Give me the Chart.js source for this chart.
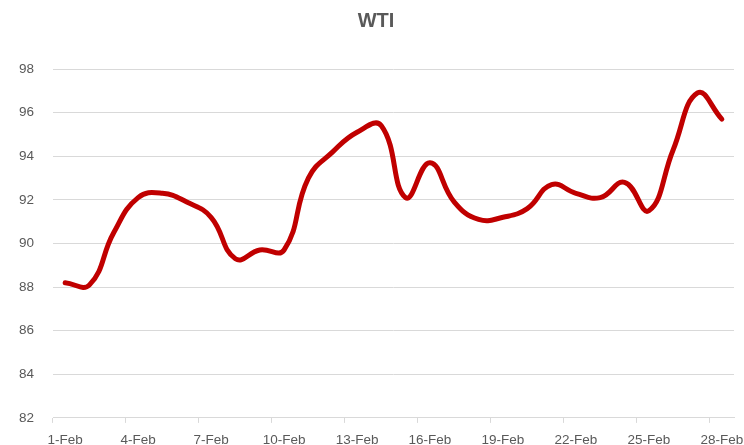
<!DOCTYPE html>
<html>
<head>
<meta charset="utf-8">
<script src="https://cdn.jsdelivr.net/npm/chart.js@4"></script>
<style>
  html, body { margin: 0; padding: 0; background: #fff; }
  #wrap { width: 744px; height: 445px; }
</style>
</head>
<body>
<div id="wrap"><canvas id="chartWti"></canvas></div>
<script>
// WTI daily price, February — smoothed line, Excel-like styling.
var DAYS = [
  '1-Feb', '2-Feb', '3-Feb', '4-Feb', '5-Feb', '6-Feb', '7-Feb', '8-Feb', '9-Feb', '10-Feb',
  '11-Feb', '12-Feb', '13-Feb', '14-Feb', '15-Feb', '16-Feb', '17-Feb', '18-Feb', '19-Feb', '20-Feb',
  '21-Feb', '22-Feb', '23-Feb', '24-Feb', '25-Feb', '26-Feb', '27-Feb', '28-Feb'
];
var WTI = [
  88.2, 88.1, 90.5, 92.1, 92.3, 91.9, 91.2, 89.3, 89.7, 89.7,
  93.0, 94.2, 95.1, 95.4, 92.1, 93.7, 91.9, 91.1, 91.2, 91.6,
  92.7, 92.3, 92.1, 92.8, 91.5, 94.3, 96.9, 95.7
];
var Y_MIN = 82;
var Y_MAX = 98;
var Y_STEP = 2;

var LINE_COLOR = '#c00000';
var GRID_COLOR = '#d9d9d9';
var TEXT_COLOR = '#595959';
var FONT = "'Liberation Sans', Arial, sans-serif";

(function () {
  var el = document.getElementById('chartWti');
  // eslint-disable-next-line no-new
  new Chart(el, {
    type: 'line',
    data: {
      labels: DAYS,
      datasets: [
        {
          label: 'WTI',
          data: WTI,
          borderColor: LINE_COLOR,
          backgroundColor: LINE_COLOR,
          borderWidth: 5,
          borderCapStyle: 'round',
          borderJoinStyle: 'round',
          pointRadius: 0,
          tension: 0.45,
          fill: false,
        },
      ],
    },
    options: {
      responsive: true,
      maintainAspectRatio: false,
      animation: false,
      // left padding nudges the title centre to where Excel put it
      layout: { padding: { left: 18, right: 10, top: 0, bottom: 0 } },
      plugins: {
        legend: { display: false },
        tooltip: { enabled: false },
        title: {
          display: true,
          text: 'WTI',
          color: TEXT_COLOR,
          font: { family: FONT, size: 20, weight: 'bold' },
          padding: { top: 9, bottom: 36 },
        },
      },
      scales: {
        x: {
          offset: true,
          border: { display: true, color: GRID_COLOR, width: 1 },
          grid: {
            offset: true,
            drawOnChartArea: false,
            drawTicks: true,
            tickLength: 5,
            color: function (ctx) {
              return ctx.index % 3 === 0 ? GRID_COLOR : 'rgba(0,0,0,0)';
            },
          },
          ticks: {
            autoSkip: false,
            maxRotation: 0,
            padding: 9,
            color: TEXT_COLOR,
            font: { family: FONT, size: 13.5 },
            callback: function (v, i) {
              return i % 3 === 0 ? DAYS[i] : '';
            },
          },
          afterFit: function (s) {
            s.height = 26;
            // the last label may hang into the right margin, as in Excel
            s.paddingLeft = 0;
            s.paddingRight = 0;
          },
        },
        y: {
          min: Y_MIN,
          max: Y_MAX,
          border: { display: false },
          grid: { color: GRID_COLOR, lineWidth: 1, drawTicks: false },
          ticks: {
            stepSize: Y_STEP,
            padding: 19,
            color: TEXT_COLOR,
            font: { family: FONT, size: 13.5 },
          },
          afterFit: function (s) {
            s.width = 35;
          },
        },
      },
    },
  });
})();
</script>
</body>
</html>
